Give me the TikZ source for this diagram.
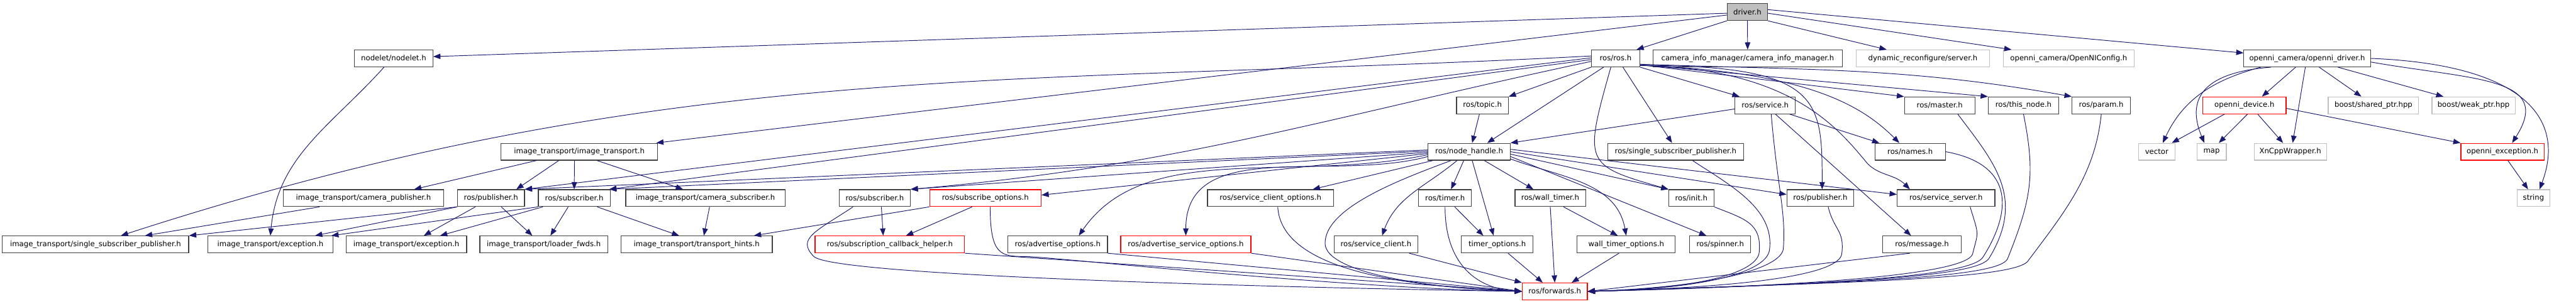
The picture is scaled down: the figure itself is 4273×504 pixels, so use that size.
\documentclass[tikz,border=0pt]{standalone}
\usepackage{fontspec}
\setmainfont{DejaVu Sans}
\usetikzlibrary{arrows.meta}
\definecolor{edgeblue}{HTML}{191970}
\definecolor{boxgray}{HTML}{404040}
\definecolor{sysgray}{HTML}{BFBFBF}

\begin{document}
\begin{tikzpicture}[x=1pt, y=1pt,
    incfile/.style={draw=boxgray, line width=1.2pt, fill=white, minimum height=28pt, inner sep=0pt, font=\fontsize{12.2}{14}\selectfont},
    topfile/.style={incfile, fill=sysgray},
    sysfile/.style={incfile, draw=sysgray},
    trunc/.style={incfile, draw=red},
    incl/.style={-{Triangle[length=12pt, width=9pt]}, edgeblue, line width=1pt}]
        \useasboundingbox (0,0) rectangle (4273,504);

        \node (drv) [topfile, minimum width=67] at (2898.5,484) {driver.h};

        \node (nodelet) [incfile, minimum width=130] at (653,407) {nodelet/nodelet.h};
        \node (rosros) [incfile, minimum width=80] at (2680,407) {ros/ros.h};
        \node (caminfo) [incfile, minimum width=314] at (2899,407) {camera\_info\_manager/camera\_info\_manager.h};
        \node (dynrec) [sysfile, minimum width=221] at (3189.5,407) {dynamic\_reconfigure/server.h};
        \node (oniconf) [sysfile, minimum width=217] at (3431.5,407) {openni\_camera/OpenNIConfig.h};
        \node (ondrv) [incfile, minimum width=210] at (3827,407) {openni\_camera/openni\_driver.h};

        \node (topic) [incfile, minimum width=86] at (2459,329) {ros/topic.h};
        \node (service) [incfile, minimum width=100] at (2928,329) {ros/service.h};
        \node (master) [incfile, minimum width=117] at (3217.5,329) {ros/master.h};
        \node (thisnode) [incfile, minimum width=117] at (3356.5,329) {ros/this\_node.h};
        \node (param) [incfile, minimum width=97] at (3485.5,329) {ros/param.h};
        \node (ondev) [trunc, minimum width=138] at (3723,329) {openni\_device.h};
        \node (shptr) [sysfile, minimum width=150] at (3937,329) {boost/shared\_ptr.hpp};
        \node (wkptr) [sysfile, minimum width=138] at (4103,329) {boost/weak\_ptr.hpp};

        \node (itr) [incfile, minimum width=260] at (961,252) {image\_transport/image\_transport.h};
        \node (nh) [incfile, minimum width=136] at (2437,252) {ros/node\_handle.h};
        \node (rssp) [incfile, minimum width=225] at (2779.5,252) {ros/single\_subscriber\_publisher.h};
        \node (names) [incfile, minimum width=117] at (3168.5,252) {ros/names.h};
        \node (vector) [sysfile, minimum width=61] at (3577.5,252) {vector};
        \node (map) [sysfile, minimum width=49] at (3668.5,252) {map};
        \node (xn) [sysfile, minimum width=120] at (3799,252) {XnCppWrapper.h};
        \node (onexc) [trunc, minimum width=138] at (4151,252) {openni\_exception.h};

        \node (campub) [incfile, minimum width=266] at (603,175) {image\_transport/camera\_publisher.h};
        \node (pub1) [incfile, minimum width=111] at (814.5,175) {ros/publisher.h};
        \node (sub1) [incfile, minimum width=119] at (952.5,175) {ros/subscriber.h};
        \node (camsub) [incfile, minimum width=264] at (1170,175) {image\_transport/camera\_subscriber.h};
        \node (sub2) [incfile, minimum width=118] at (1451,175) {ros/subscriber.h};
        \node (subopt) [trunc, minimum width=185] at (1634.5,175) {ros/subscribe\_options.h};
        \node (scopt) [incfile, minimum width=209] at (2107.5,175) {ros/service\_client\_options.h};
        \node (timer) [incfile, minimum width=88] at (2397,175) {ros/timer.h};
        \node (wtimer) [incfile, minimum width=117] at (2571.5,175) {ros/wall\_timer.h};
        \node (init) [incfile, minimum width=75] at (2805.5,175) {ros/init.h};
        \node (pub2) [incfile, minimum width=111] at (3019.5,175) {ros/publisher.h};
        \node (ssrv) [incfile, minimum width=162] at (3228,175) {ros/service\_server.h};
        \node (string) [sysfile, minimum width=55] at (4202.5,175) {string};

        \node (issp) [incfile, minimum width=309] at (158.5,98) {image\_transport/single\_subscriber\_publisher.h};
        \node (exc1) [incfile, minimum width=207] at (448.5,98) {image\_transport/exception.h};
        \node (exc2) [incfile, minimum width=200] at (674,98) {image\_transport/exception.h};
        \node (ldr) [incfile, minimum width=212] at (902,98) {image\_transport/loader\_fwds.h};
        \node (hints) [incfile, minimum width=251] at (1155.5,98) {image\_transport/transport\_hints.h};
        \node (scbh) [trunc, minimum width=248] at (1476,98) {ros/subscription\_callback\_helper.h};
        \node (advopt) [incfile, minimum width=165] at (1754.5,98) {ros/advertise\_options.h};
        \node (asopt) [trunc, minimum width=216] at (1967,98) {ros/advertise\_service\_options.h};
        \node (sclient) [incfile, minimum width=139] at (2282.5,98) {ros/service\_client.h};
        \node (topt) [incfile, minimum width=119] at (2483.5,98) {timer\_options.h};
        \node (wtopt) [incfile, minimum width=163] at (2697.5,98) {wall\_timer\_options.h};
        \node (spinner) [incfile, minimum width=101] at (2853.5,98) {ros/spinner.h};
        \node (msg) [incfile, minimum width=130] at (3188,98) {ros/message.h};

        \node (fwd) [trunc, minimum width=108] at (2579,20) {ros/forwards.h};

        \draw[incl] ([yshift=-2]drv.west) -- ([yshift=3]nodelet.east);
        \draw[incl] ([yshift=-5]drv.west) -- ([xshift=-3]itr.north east);
        \draw[incl] (drv.south west) -- ([xshift=-6]rosros.north east);
        \draw[incl] (drv) -- (caminfo);
        \draw[incl] (drv.south east) -- ([xshift=-60]dynrec.north);
        \draw[incl] ([yshift=-2]drv.east) -- ([xshift=-95]oniconf.north);
        \draw[incl] ([yshift=4]drv.east) -- ([yshift=9]ondrv.west);

        \draw[incl] ([xshift=-16]nodelet.south) .. controls +(-88,-98) and +(12,132) .. (exc1.north);

        \draw[incl] ([yshift=4]rosros.west) .. controls +(-958,-50) and +(912,296) .. ([xshift=42]issp.north);
        \draw[incl] ([yshift=1]rosros.west) -- (pub1.north east);
        \draw[incl] ([yshift=-2]rosros.west) -- ([xshift=-2]sub1.north east);
        \draw[incl] ([yshift=-5]rosros.west) .. controls +(-438,-93) and +(446,39) .. (sub2.north east);
        \draw[incl] (rosros.south west) -- (topic.north east);
        \draw[incl] ([xshift=-20]rosros.south) -- ([xshift=30]nh.north);
        \draw[incl] ([xshift=-8]rosros.south) .. controls +(-45,-160) and +(-140,40) .. (init.north west);
        \draw[incl] ([xshift=12]rosros.south) -- ([xshift=-6]rssp.north);
        \draw[incl] (rosros.south east) -- ([xshift=8]service.north west);
        \draw[incl] ([yshift=3]rosros.south east) .. controls +(300,0) and +(0,150) .. ([xshift=3]pub2.north);
        \draw[incl] ([yshift=3]rosros.south east) .. controls +(250,-5) and +(-50,60) .. (3098,232) .. controls +(20,-20) and +(-25,25) .. ([xshift=-60]ssrv.north);
        \draw[incl] ([yshift=3]rosros.south east) .. controls +(280,-10) and +(-60,60) .. ([xshift=-18]names.north);
        \draw[incl] ([yshift=4]rosros.south east) -- (master.north west);
        \draw[incl] ([yshift=4]rosros.south east) -- (thisnode.north west);
        \draw[incl] ([yshift=5]rosros.south east) .. controls +(280,-10) and +(-276,49) .. (param.north west);

        \draw[incl] ([xshift=-5]topic.south) -- ([xshift=5]nh.north);
        \draw[incl] ([yshift=-6]service.west) -- (nh.north east);
        \draw[incl] ([xshift=-10]service.south east) -- ([xshift=8]names.north west);
        \draw[incl] ([xshift=17]service.south) -- ([xshift=-18]msg.north);
        \draw[incl] ([xshift=10]service.south) .. controls +(10,-120) and +(5,60) .. (2958,90) .. controls +(-5,-30) and +(220,8) .. (fwd.east);

        \draw[incl] ([xshift=28]rssp.south) .. controls +(60,-40) and +(10,70) .. (2935,88) .. controls +(-5,-30) and +(220,5) .. (fwd.east);
        \draw[incl] (init.south east) .. controls +(50,-20) and +(5,50) .. (2918,84) .. controls +(-5,-30) and +(200,5) .. (fwd.east);
        \draw[incl] ([xshift=13]pub2.south) .. controls +(10,-40) and +(5,40) .. (3055,82) .. controls +(-5,-30) and +(300,8) .. (fwd.east);
        \draw[incl] ([xshift=40]ssrv.south) .. controls +(15,-50) and +(10,40) .. (3272,82) .. controls +(-10,-30) and +(420,10) .. (fwd.east);
        \draw[incl] (names.east) .. controls +(110,-20) and +(50,80) .. (3290,78) .. controls +(-15,-30) and +(450,12) .. (fwd.east);
        \draw[incl] ([xshift=30]master.south) .. controls +(60,-80) and +(60,100) .. (3300,76) .. controls +(-15,-30) and +(460,14) .. (fwd.east);
        \draw[incl] (thisnode.south) .. controls +(20,-100) and +(40,100) .. (3330,74) .. controls +(-15,-30) and +(470,15) .. (fwd.east);
        \draw[incl] (param.south) .. controls +(-10,-100) and +(60,80) .. (3365,72) .. controls +(-15,-30) and +(480,16) .. (fwd.east);
        \draw[incl] ([xshift=-20]msg.south) -- (fwd.east);

        \draw[incl] ([yshift=3]nh.west) -- (pub1.north east);
        \draw[incl] ([yshift=1]nh.west) -- ([xshift=-2]sub1.north east);
        \draw[incl] ([yshift=-1]nh.west) -- (sub2.north east);
        \draw[incl] ([yshift=-3]nh.west) -- ([yshift=5]subopt.east);
        \draw[incl] ([yshift=-5]nh.west) .. controls +(-227,-48) and +(110,160) .. ([xshift=35]advopt.north);
        \draw[incl] ([yshift=-8]nh.west) .. controls +(-159,-43) and +(0,165) .. (asopt.north);
        \draw[incl] ([xshift=-60]nh.south) -- ([xshift=70]scopt.north);
        \draw[incl] ([xshift=-20]nh.south) .. controls +(-53,-44) and +(24,65) .. ([xshift=10]sclient.north);
        \draw[incl] ([xshift=-30]nh.south) .. controls +(-80,-30) and +(0,60) .. (2198,100) .. controls +(0,-50) and +(-150,5) .. (fwd.west);
        \draw[incl] ([xshift=-9]nh.south) -- ([xshift=10]timer.north);
        \draw[incl] ([xshift=5]nh.south) -- ([xshift=-6]topt.north);
        \draw[incl] ([xshift=25]nh.south) -- ([xshift=-28]wtimer.north);
        \draw[incl] ([yshift=-12]nh.east) .. controls +(85,-31) and +(-16,89) .. (wtopt.north);
        \draw[incl] ([yshift=-8]nh.east) -- ([xshift=-23]spinner.north);
        \draw[incl] ([yshift=-4]nh.east) -- (init.north west);
        \draw[incl] (nh.east) -- ([yshift=6]pub2.west);
        \draw[incl] ([yshift=4]nh.east) -- ([yshift=6]ssrv.west);

        \draw[incl] ([xshift=16]timer.south) -- ([xshift=-23]topt.north);
        \draw[incl] (timer.south) .. controls +(0,-90) and +(-80,5) .. (fwd.west);
        \draw[incl] ([xshift=22]wtimer.south) -- ([xshift=-14]wtopt.north);
        \draw[incl] (wtimer.south) -- (fwd.north);
        \draw[incl] ([xshift=-12]wtopt.south) -- ([xshift=28]fwd.north);
        \draw[incl] ([xshift=18]topt.south) -- ([xshift=-20]fwd.north);
        \draw[incl] ([xshift=55]sclient.south) -- (fwd.north west);
        \draw[incl] ([xshift=12]scopt.south) .. controls +(5,-90) and +(-250,10) .. (fwd.west);
        \draw[incl] (asopt.south east) -- (fwd.west);
        \draw[incl] (advopt.south east) -- (fwd.west);
        \draw[incl] (scbh.south east) -- (fwd.west);
        \draw[incl] ([xshift=8]subopt.south) .. controls +(0,-80) and +(-40,0) .. (1700,78) .. controls +(40,0) and +(-300,5) .. (fwd.west);
        \draw[incl] ([xshift=-36]sub2.south) .. controls +(-60,-40) and +(-30,30) .. (1350,78) .. controls +(30,-30) and +(-500,8) .. (fwd.west);

        \draw[incl] (subopt.south west) -- ([xshift=95]hints.north);
        \draw[incl] ([xshift=-22]subopt.south) -- ([xshift=27]scbh.north);
        \draw[incl] ([xshift=11]sub2.south) -- ([xshift=-11]scbh.north);
        \draw[incl] ([xshift=7]camsub.south) -- ([xshift=12]hints.north);

        \draw[incl] ([xshift=-71]itr.south) -- ([xshift=84]campub.north);
        \draw[incl] ([xshift=-34]itr.south) -- ([xshift=42]pub1.north);
        \draw[incl] ([xshift=-8]itr.south) -- (sub1.north);
        \draw[incl] ([xshift=29]itr.south) -- ([xshift=-37]camsub.north);
        \draw[incl] ([xshift=-73]campub.south) -- ([xshift=82]issp.north);
        \draw[incl] (pub1.south west) -- (issp.north east);
        \draw[incl] (pub1.south west) -- ([xshift=-30]exc1.north east);
        \draw[incl] (sub1.south west) -- ([xshift=-3]exc1.north east);
        \draw[incl] ([xshift=-26]pub1.south) -- ([xshift=29]exc2.north);
        \draw[incl] ([xshift=-52]sub1.south) -- ([xshift=56]exc2.north);
        \draw[incl] ([xshift=17]pub1.south) -- ([xshift=-19]ldr.north);
        \draw[incl] ([xshift=-10]sub1.south) -- ([xshift=11]ldr.north);
        \draw[incl] ([xshift=38]sub1.south) -- ([xshift=-29]hints.north);

        \draw[incl] ([xshift=-77]ondrv.south) .. controls +(-78,-21) and +(34,73) .. ([xshift=10]vector.north);
        \draw[incl] ([xshift=-60]ondrv.south) .. controls +(-130,-10) and +(-25,60) .. ([xshift=-12]map.north);
        \draw[incl] ([xshift=-19]ondrv.south) -- ([xshift=29]ondev.north);
        \draw[incl] ([xshift=-3]ondrv.south) -- ([xshift=4]xn.north);
        \draw[incl] ([xshift=20]ondrv.south) -- ([xshift=-20]shptr.north);
        \draw[incl] ([xshift=51]ondrv.south) -- ([xshift=-50]wkptr.north);
        \draw[incl] ([yshift=-6]ondrv.east) .. controls +(170,-30) and +(70,110) .. ([xshift=16]onexc.north);
        \draw[incl] (ondrv.east) .. controls +(250,-10) and +(45,120) .. ([xshift=10]string.north);
        \draw[incl] ([xshift=-33]ondev.south) -- ([xshift=25]vector.north);
        \draw[incl] ([xshift=5]ondev.south) -- ([xshift=12]map.north);
        \draw[incl] ([xshift=22]ondev.south) -- ([xshift=-12]xn.north);
        \draw[incl] ([yshift=-5]ondev.east) -- (onexc.north west);
        \draw[incl] ([xshift=9]onexc.south) -- ([xshift=-9]string.north);
    \end{tikzpicture}
\end{document}
